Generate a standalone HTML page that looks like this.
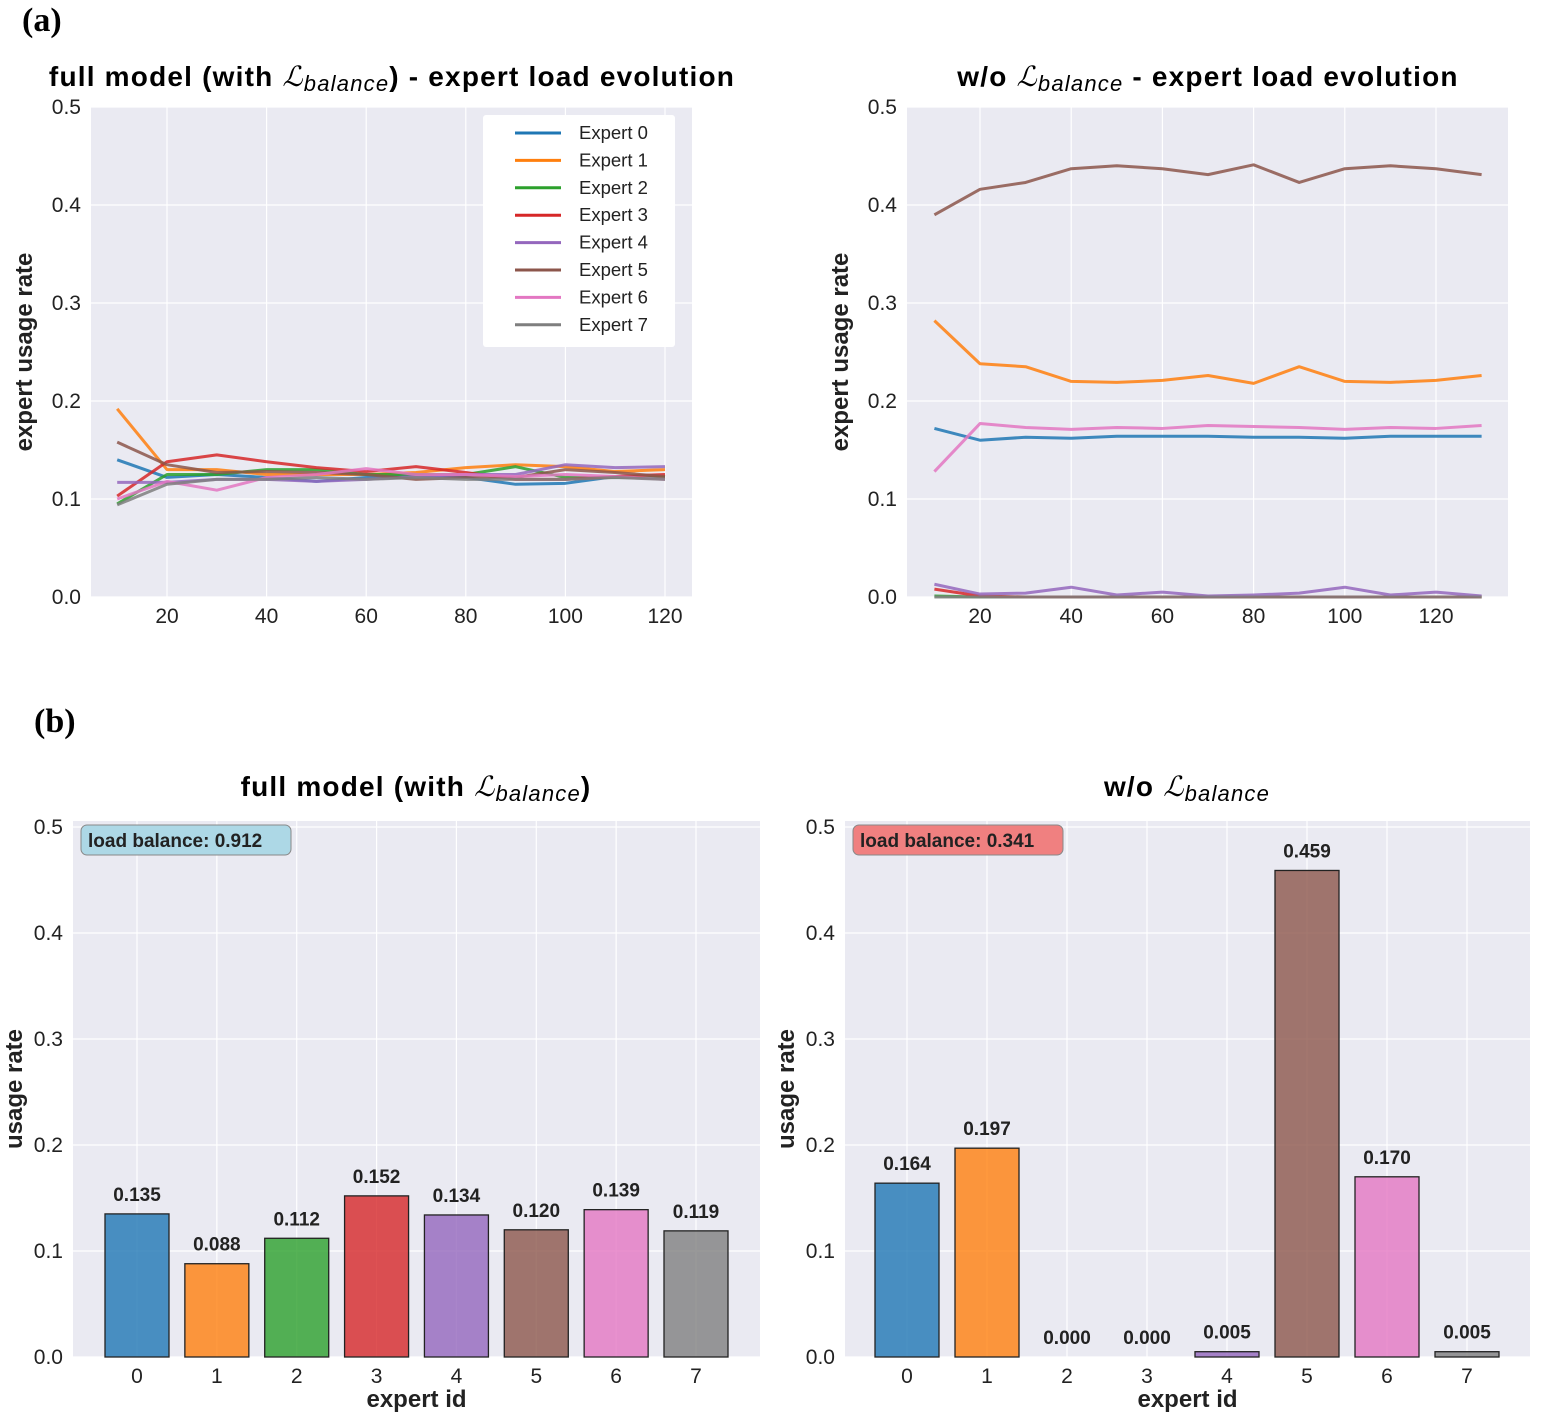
<!DOCTYPE html>
<html><head><meta charset="utf-8"><style>
body{margin:0;background:#fff;}
svg{display:block;font-family:"Liberation Sans",sans-serif;}
.tt{font-weight:bold;font-size:28px;letter-spacing:1.2px;}
</style></head><body>
<svg id="fig" width="1541" height="1418" viewBox="0 0 1541 1418" xmlns="http://www.w3.org/2000/svg">
<text x="22" y="31" font-family="Liberation Serif" font-weight="bold" font-size="34">(a)</text>
<text x="34" y="732" font-family="Liberation Serif" font-weight="bold" font-size="34">(b)</text>
<text class="tt" x="392" y="86" text-anchor="middle">full model (with <tspan font-family="Liberation Serif" font-style="italic" font-weight="normal">ℒ</tspan><tspan font-style="italic" font-weight="normal" font-size="22" dy="5">balance</tspan><tspan dy="-5">) - expert load evolution</tspan></text>
<text class="tt" x="1208" y="86" text-anchor="middle">w/o <tspan font-family="Liberation Serif" font-style="italic" font-weight="normal">ℒ</tspan><tspan font-style="italic" font-weight="normal" font-size="22" dy="5">balance</tspan><tspan dy="-5"> - expert load evolution</tspan></text>
<text class="tt" x="416" y="796" text-anchor="middle">full model (with <tspan font-family="Liberation Serif" font-style="italic" font-weight="normal">ℒ</tspan><tspan font-style="italic" font-weight="normal" font-size="22" dy="5">balance</tspan><tspan dy="-5">)</tspan></text>
<text class="tt" x="1187" y="796" text-anchor="middle">w/o <tspan font-family="Liberation Serif" font-style="italic" font-weight="normal">ℒ</tspan><tspan font-style="italic" font-weight="normal" font-size="22" dy="5">balance</tspan></text>
</svg>
<script>
const colors=['#1f77b4','#ff7f0e','#2ca02c','#d62728','#9467bd','#8c564b','#e377c2','#7f7f7f'];
const xFull=[10,20,30,40,50,60,70,80,90,100,110,120];
const full0=[0.14,0.122,0.125,0.122,0.118,0.122,0.125,0.122,0.115,0.116,0.123,0.122];
const full1=[0.192,0.13,0.13,0.125,0.125,0.125,0.127,0.132,0.135,0.133,0.128,0.13];
const full2=[0.095,0.125,0.125,0.13,0.13,0.125,0.125,0.125,0.133,0.122,0.122,0.122];
const full3=[0.103,0.138,0.145,0.138,0.132,0.128,0.133,0.127,0.12,0.12,0.123,0.125];
const full4=[0.117,0.117,0.12,0.12,0.118,0.12,0.123,0.125,0.125,0.135,0.132,0.133];
const full5=[0.158,0.135,0.127,0.128,0.127,0.125,0.12,0.122,0.122,0.13,0.127,0.123];
const full6=[0.1,0.118,0.109,0.122,0.125,0.131,0.125,0.125,0.123,0.125,0.123,0.12];
const full7=[0.094,0.115,0.12,0.12,0.122,0.12,0.122,0.12,0.12,0.12,0.122,0.12];
const xWo=[10,20,30,40,50,60,70,80,90,100,110,120,130];
const wo0=[0.172,0.16,0.163,0.162,0.164,0.164,0.164,0.163,0.163,0.162,0.164,0.164,0.164];
const wo1=[0.282,0.238,0.235,0.22,0.219,0.221,0.226,0.218,0.235,0.22,0.219,0.221,0.226];
const wo2=[0.001,0,0,0,0,0,0,0,0,0,0,0,0];
const wo3=[0.008,0.001,0,0,0,0,0,0,0,0,0,0,0];
const wo4=[0.013,0.003,0.004,0.01,0.002,0.005,0.001,0.002,0.004,0.01,0.002,0.005,0.001];
const wo5=[0.39,0.416,0.423,0.437,0.44,0.437,0.431,0.441,0.423,0.437,0.44,0.437,0.431];
const wo6=[0.128,0.177,0.173,0.171,0.173,0.172,0.175,0.174,0.173,0.171,0.173,0.172,0.175];
const wo7=[0,0,0,0,0,0,0,0,0,0,0,0,0];
const yTicks=[0,0.1,0.2,0.3,0.4,0.5];
const yTickLabels=['0.0','0.1','0.2','0.3','0.4','0.5'];
const xTicksLine=[20,40,60,80,100,120];
const expertIds=[0,1,2,3,4,5,6,7];
const barsFull=[0.135,0.088,0.112,0.152,0.134,0.120,0.139,0.119];
const barsWo=[0.164,0.197,0.000,0.000,0.005,0.459,0.170,0.005];
const legendLabels=['Expert 0','Expert 1','Expert 2','Expert 3','Expert 4','Expert 5','Expert 6','Expert 7'];

const NS='http://www.w3.org/2000/svg';
const svg=document.getElementById('fig');
function mk(tag,attrs,parent){const e=document.createElementNS(NS,tag);for(const k in attrs)e.setAttribute(k,attrs[k]);(parent||svg).appendChild(e);return e;}

function axes(p){
  const g=mk('g',{});
  
  
  mk('rect',{x:p.x0,y:p.top,width:p.x1-p.x0,height:p.bottom-p.top,fill:'#eaeaf2'},g);
  yTicks.forEach((t,i)=>{const y=p.sy(t);
    mk('line',{x1:p.x0,x2:p.x1,y1:y,y2:y,stroke:'#fff','stroke-width':1.2},g);
    const tx=mk('text',{x:p.x0-10,y:y+7,'text-anchor':'end','font-size':21,fill:'#222'},g);tx.textContent=yTickLabels[i];
    
    
  });
  p.xt.forEach((t,i)=>{const x=p.sx(t);
    mk('line',{x1:x,x2:x,y1:p.top,y2:p.bottom,stroke:'#fff','stroke-width':1.2},g);
    const tx=mk('text',{x:x,y:p.bottom+26,'text-anchor':'middle','font-size':21,fill:'#222'},g);tx.textContent=String(t);
    
    
  });
  const yl=mk('text',{x:0,y:0,transform:`translate(${p.ylx},${(p.top+p.bottom)/2}) rotate(-90)`,'text-anchor':'middle','font-size':24,'font-weight':'bold',fill:'#222'},g);
  yl.textContent=p.ylabel;
  
  
  if(p.xlabel){const xl=mk('text',{x:(p.x0+p.x1)/2,y:p.bottom+50,'text-anchor':'middle','font-size':24,'font-weight':'bold',fill:'#222'},g);xl.textContent=p.xlabel;
    
    }
  return g;
}
function lin(d0,d1,r0,r1){return v=>r0+(v-d0)*(r1-r0)/(d1-d0);}

const tl={name:'chart-full-evolution',x0:91,x1:692,top:107,bottom:597,xt:xTicksLine,ylx:32,ylabel:'expert usage rate',
  sx:lin(20,120,167,665),sy:lin(0,0.5,597,107)};
const gtl=axes(tl);
[full0,full1,full2,full3,full4,full5,full6,full7].forEach((s,k)=>{
  const pl=mk('polyline',{points:s.map((v,i)=>tl.sx(xFull[i])+','+tl.sy(v)).join(' '),fill:'none',stroke:colors[k],'stroke-width':3,'stroke-opacity':0.85,'stroke-linejoin':'round'},gtl);
  
  
});
const lg=mk('g',{},gtl);


mk('rect',{x:483,y:115,width:192,height:232,fill:'#fff',rx:3},lg);
legendLabels.forEach((l,k)=>{const y=133+k*27.4;
  const e=mk('g',{},lg);
  
  
  mk('line',{x1:515,x2:561,y1:y,y2:y,stroke:colors[k],'stroke-width':3},e);
  const t=mk('text',{x:579,y:y+6,'font-size':18.5,fill:'#222'},e);t.textContent=l;});

const tr={name:'chart-wo-evolution',x0:907,x1:1508,top:107,bottom:597,xt:xTicksLine,ylx:848,ylabel:'expert usage rate',
  sx:lin(20,120,980,1436),sy:lin(0,0.5,597,107)};
const gtr=axes(tr);
[wo0,wo1,wo2,wo3,wo4,wo5,wo6,wo7].forEach((s,k)=>{
  const pl=mk('polyline',{points:s.map((v,i)=>tr.sx(xWo[i])+','+tr.sy(v)).join(' '),fill:'none',stroke:colors[k],'stroke-width':3,'stroke-opacity':0.85,'stroke-linejoin':'round'},gtr);
  
  
});

function barChart(p,vals,boxText,boxFill){
  const g=axes(p);
  vals.forEach((v,k)=>{const x=p.sx(expertIds[k]);const y=p.sy(v);
    const r=mk('rect',{x:x-32,y:y,width:64,height:p.sy(0)-y,fill:colors[k],'fill-opacity':0.8,stroke:'#222','stroke-width':1.3},g);
    
    
    const t=mk('text',{x:x,y:y-13,'text-anchor':'middle','font-size':19,'font-weight':'bold',fill:'#222'},g);t.textContent=v.toFixed(3);
    
    
  });
  const b=mk('g',{},g);
  
  
  mk('rect',{x:p.x0+8,y:825,width:210,height:30,rx:6,fill:boxFill,stroke:'#888','stroke-width':1},b);
  const t=mk('text',{x:p.x0+15,y:847,'font-size':19,'font-weight':'bold',fill:'#222'},b);t.textContent=boxText;
}
const bl={name:'chart-full-bars',x0:73,x1:760,top:821,bottom:1357,xt:expertIds,ylx:22,ylabel:'usage rate',xlabel:'expert id',
  sx:lin(0,7,137,696),sy:lin(0,0.5,1357,827)};
barChart(bl,barsFull,'load balance: 0.912','#add8e6');
const br={name:'chart-wo-bars',x0:845,x1:1530,top:821,bottom:1357,xt:expertIds,ylx:794,ylabel:'usage rate',xlabel:'expert id',
  sx:lin(0,7,907,1467),sy:lin(0,0.5,1357,827)};
barChart(br,barsWo,'load balance: 0.341','#f08080');
</script>
</body></html>
